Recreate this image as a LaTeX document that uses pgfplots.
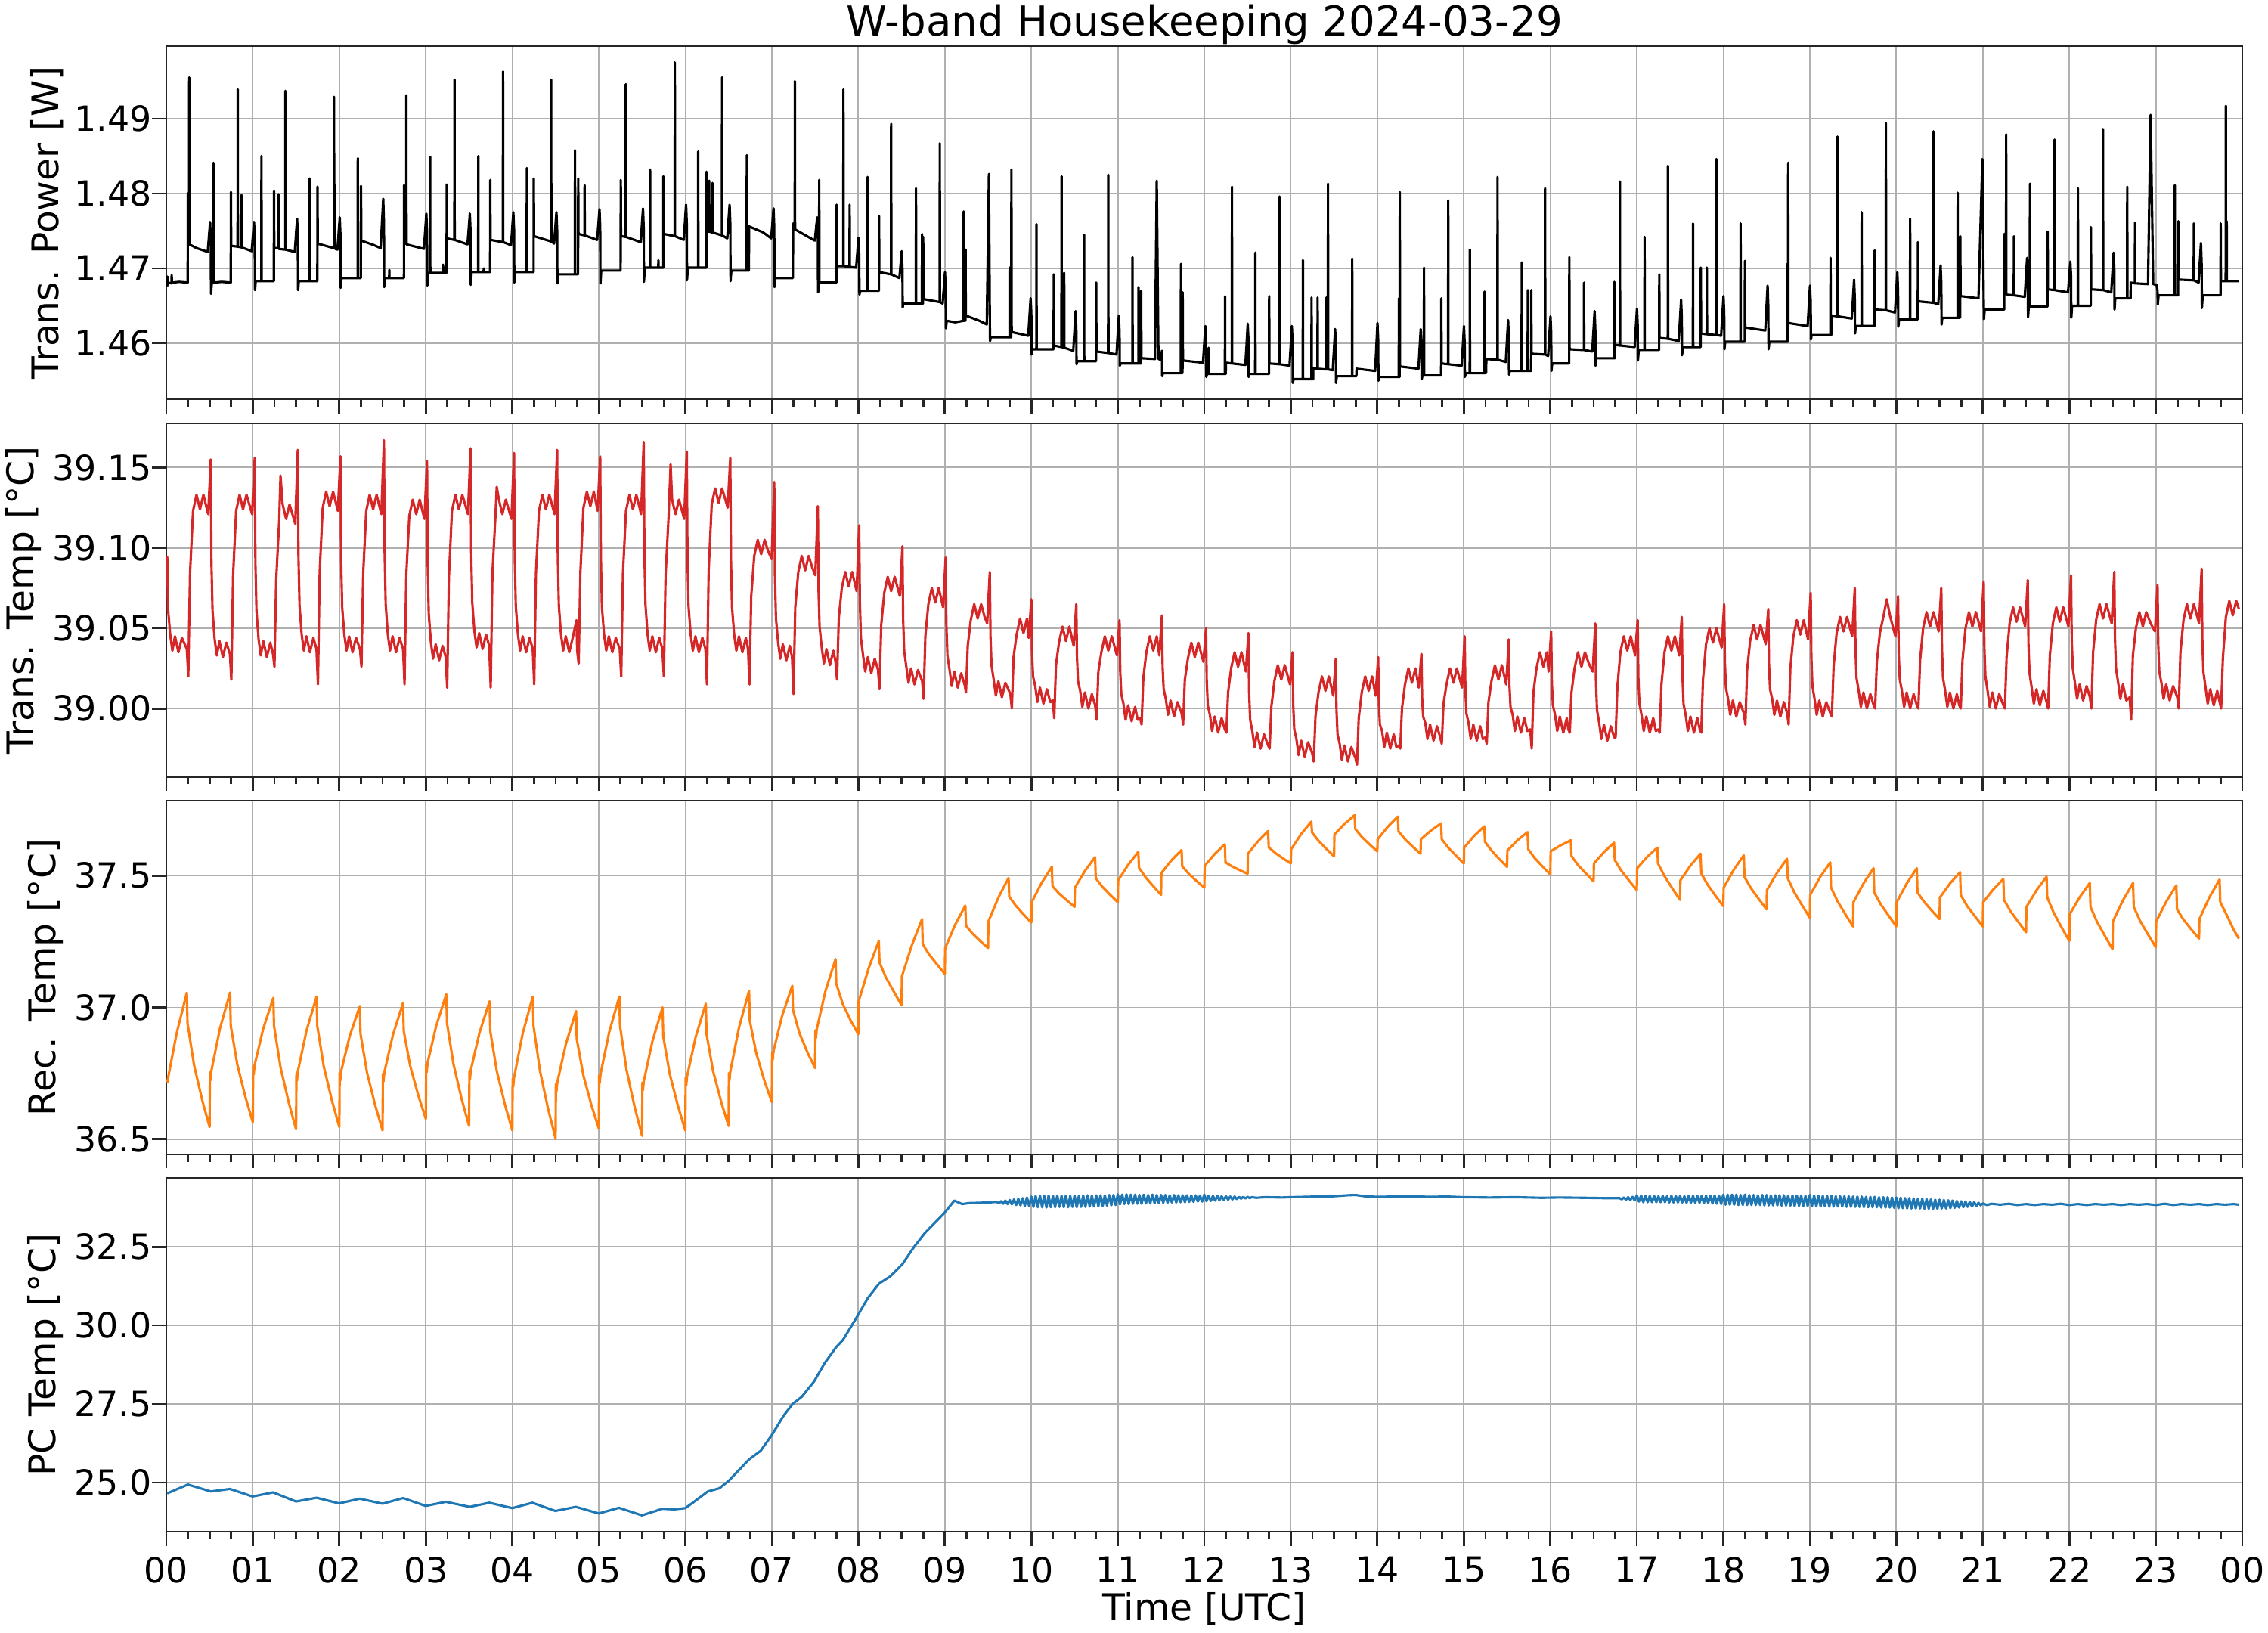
\documentclass[border=0pt]{standalone}
\usepackage{fontspec}
\setmainfont{DejaVu Sans}
\usepackage{pgfplots}
\pgfplotsset{compat=1.18}
\definecolor{tabred}{HTML}{D62728}
\definecolor{taborange}{HTML}{FF7F0E}
\definecolor{tabblue}{HTML}{1F77B4}
\definecolor{gridgray}{HTML}{B0B0B0}
\definecolor{axcol}{HTML}{262626}
\pgfplotsset{
  hk/.style={
    scale only axis, width=659.04pt, height=112.2pt,
    anchor=south west,
    xmin=0, xmax=24, xtick={0,1,...,24}, minor x tick num=3,
    tick pos=left, tick align=outside,
    major tick length=4.45pt, minor tick length=2.4pt,
    tick style={axcol, line width=0.65pt},
    axis line style={axcol, line width=0.5pt},
    grid=major, major grid style={gridgray, line width=0.45pt},
    tick label style={font=\fontsize{11}{13}\selectfont},
    yticklabel style={inner xsep=0pt},
    label style={font=\fontsize{11.7}{14}\selectfont},
    /pgf/number format/assume math mode=true,
    scaled y ticks=false,
    xticklabels={},
    every axis plot/.append style={line width=0.75pt, line join=round, mark=none},
  }
}
\begin{document}
\begin{tikzpicture}
\useasboundingbox (0,0) rectangle (720pt,518.4pt);
% ---------------- Panel 1: transmitter power
\begin{axis}[hk, at={(52.8pt,391.6pt)},
  ymin=1.4525, ymax=1.4997, ytick={1.46,1.47,1.48,1.49},
  yticklabel style={/pgf/number format/.cd, fixed, fixed zerofill, precision=2},
  ylabel={Trans. Power [W]},
  title={W-band Housekeeping 2024-03-29},
  title style={font=\fontsize{13.1}{15}\selectfont, at={(0.5,1)}, anchor=base, yshift=-2.7pt}]
\addplot[black] coordinates {
(0.010,1.4676) (0.015,1.4689) (0.020,1.4681) (0.060,1.4680) (0.062,1.4691) (0.065,1.4681) (0.150,1.4682) (0.247,1.4681)
(0.249,1.4800) (0.252,1.4733) (0.263,1.4733) (0.265,1.4955) (0.267,1.4732) (0.350,1.4727) (0.479,1.4722) (0.506,1.4762) (0.514,1.4740)
(0.517,1.4666) (0.526,1.4681) (0.544,1.4681) (0.546,1.4841) (0.548,1.4681) (0.640,1.4682) (0.745,1.4681)
(0.747,1.4802) (0.750,1.4730) (0.824,1.4729) (0.826,1.4939) (0.828,1.4729) (0.867,1.4728) (0.869,1.4798) (0.871,1.4728) (0.987,1.4723) (1.014,1.4762) (1.022,1.4740)
(1.025,1.4671) (1.034,1.4683) (1.098,1.4683) (1.100,1.4850) (1.102,1.4683) (1.243,1.4683)
(1.245,1.4804) (1.248,1.4727) (1.296,1.4727) (1.298,1.4799) (1.300,1.4726) (1.375,1.4725) (1.377,1.4937) (1.379,1.4725) (1.485,1.4722) (1.512,1.4766) (1.520,1.4742)
(1.523,1.4671) (1.532,1.4683) (1.656,1.4683) (1.658,1.4820) (1.660,1.4683) (1.746,1.4683)
(1.748,1.4809) (1.751,1.4733) (1.937,1.4727) (1.939,1.4929) (1.941,1.4727) (1.948,1.4727) (1.950,1.4811) (1.952,1.4726) (1.978,1.4725) (2.005,1.4768) (2.013,1.4745)
(2.016,1.4674) (2.025,1.4687) (2.212,1.4687) (2.214,1.4847) (2.216,1.4687) (2.249,1.4687)
(2.251,1.4810) (2.254,1.4737) (2.400,1.4731) (2.478,1.4727) (2.508,1.4793) (2.516,1.4760)
(2.519,1.4675) (2.528,1.4687) (2.576,1.4687) (2.578,1.4698) (2.580,1.4687) (2.747,1.4687)
(2.749,1.4811) (2.752,1.4733) (2.773,1.4733) (2.775,1.4931) (2.777,1.4732) (2.979,1.4726) (3.006,1.4773) (3.014,1.4750)
(3.017,1.4677) (3.026,1.4694) (3.048,1.4694) (3.050,1.4849) (3.052,1.4694) (3.198,1.4694) (3.200,1.4705) (3.202,1.4694) (3.240,1.4694)
(3.242,1.4812) (3.245,1.4740) (3.330,1.4738) (3.332,1.4952) (3.334,1.4738) (3.482,1.4732) (3.509,1.4773) (3.517,1.4750)
(3.520,1.4678) (3.529,1.4695) (3.605,1.4695) (3.607,1.4850) (3.609,1.4695) (3.668,1.4695) (3.670,1.4700) (3.672,1.4695) (3.743,1.4695)
(3.745,1.4818) (3.748,1.4738) (3.891,1.4735) (3.893,1.4963) (3.895,1.4735) (3.985,1.4731) (4.012,1.4775) (4.020,1.4752)
(4.023,1.4681) (4.032,1.4695) (4.166,1.4695) (4.168,1.4834) (4.170,1.4695) (4.246,1.4695)
(4.248,1.4820) (4.251,1.4743) (4.447,1.4736) (4.449,1.4952) (4.451,1.4736) (4.483,1.4733) (4.510,1.4775) (4.518,1.4752)
(4.521,1.4680) (4.530,1.4692) (4.723,1.4692) (4.725,1.4858) (4.727,1.4692) (4.760,1.4692)
(4.762,1.4820) (4.765,1.4746) (4.834,1.4744) (4.836,1.4811) (4.838,1.4744) (4.981,1.4738) (5.008,1.4779) (5.016,1.4755)
(5.019,1.4680) (5.028,1.4697) (5.252,1.4697)
(5.254,1.4818) (5.257,1.4743) (5.310,1.4742) (5.312,1.4946) (5.314,1.4742) (5.484,1.4735) (5.511,1.4780) (5.519,1.4755)
(5.522,1.4682) (5.531,1.4701) (5.591,1.4701) (5.593,1.4832) (5.595,1.4701) (5.687,1.4701) (5.689,1.4711) (5.691,1.4701) (5.745,1.4701)
(5.747,1.4823) (5.750,1.4746) (5.877,1.4743) (5.879,1.4975) (5.881,1.4743) (5.982,1.4738) (6.009,1.4785) (6.017,1.4760)
(6.020,1.4684) (6.029,1.4701) (6.147,1.4701) (6.149,1.4856) (6.151,1.4701) (6.243,1.4701)
(6.245,1.4829) (6.248,1.4750) (6.274,1.4749) (6.276,1.4817) (6.278,1.4749) (6.311,1.4748) (6.313,1.4814) (6.315,1.4748) (6.423,1.4744) (6.425,1.4955) (6.427,1.4744) (6.485,1.4740) (6.512,1.4785) (6.520,1.4760)
(6.523,1.4683) (6.532,1.4697) (6.709,1.4697) (6.711,1.4851) (6.713,1.4697) (6.735,1.4697)
(6.737,1.4756) (6.900,1.4748) (6.993,1.4740) (7.020,1.4780) (7.028,1.4755)
(7.031,1.4675) (7.040,1.4687) (7.244,1.4687)
(7.246,1.4760) (7.249,1.4753) (7.265,1.4753) (7.267,1.4950) (7.269,1.4752) (7.497,1.4737) (7.524,1.4768) (7.532,1.4745)
(7.535,1.4668) (7.544,1.4681) (7.546,1.4681) (7.548,1.4818) (7.550,1.4681) (7.747,1.4681)
(7.749,1.4785) (7.752,1.4703) (7.826,1.4703) (7.828,1.4939) (7.830,1.4703) (7.898,1.4702) (7.900,1.4785) (7.902,1.4702) (7.975,1.4701) (8.002,1.4741) (8.010,1.4720)
(8.013,1.4665) (8.022,1.4670) (8.105,1.4670) (8.107,1.4822) (8.109,1.4670) (8.238,1.4670)
(8.240,1.4770) (8.243,1.4695) (8.378,1.4692) (8.380,1.4893) (8.382,1.4692) (8.475,1.4687) (8.502,1.4723) (8.510,1.4700)
(8.513,1.4648) (8.522,1.4653) (8.665,1.4653) (8.667,1.4807) (8.669,1.4653) (8.735,1.4653) (8.737,1.4746) (8.739,1.4653) (8.748,1.4653)
(8.750,1.4742) (8.753,1.4659) (8.940,1.4655) (8.942,1.4867) (8.944,1.4655) (8.975,1.4653) (9.002,1.4695) (9.010,1.4670)
(9.013,1.4620) (9.022,1.4630) (9.120,1.4628) (9.216,1.4630) (9.218,1.4776) (9.220,1.4630) (9.238,1.4630)
(9.240,1.4725) (9.243,1.4637) (9.400,1.4630) (9.485,1.4625) (9.510,1.4826) (9.520,1.4640)
(9.523,1.4603) (9.532,1.4608) (9.748,1.4608) (9.750,1.4701) (9.752,1.4608) (9.768,1.4608)
(9.770,1.4832) (9.773,1.4615) (9.965,1.4610) (9.992,1.4660) (10.000,1.4640)
(10.003,1.4585) (10.012,1.4592) (10.058,1.4592) (10.060,1.4759) (10.062,1.4592) (10.258,1.4592)
(10.260,1.4692) (10.263,1.4597) (10.348,1.4595) (10.350,1.4823) (10.352,1.4595) (10.378,1.4594) (10.380,1.4694) (10.382,1.4594) (10.485,1.4590) (10.512,1.4643) (10.520,1.4620)
(10.523,1.4572) (10.532,1.4576) (10.608,1.4576) (10.610,1.4745) (10.612,1.4576) (10.748,1.4576)
(10.750,1.4681) (10.753,1.4589) (10.888,1.4587) (10.890,1.4825) (10.892,1.4587) (10.985,1.4585) (11.012,1.4637) (11.020,1.4615)
(11.023,1.4570) (11.032,1.4573) (11.168,1.4573) (11.170,1.4715) (11.172,1.4573) (11.238,1.4573) (11.240,1.4675) (11.242,1.4573) (11.268,1.4573)
(11.270,1.4670) (11.273,1.4580) (11.430,1.4579) (11.450,1.4817) (11.470,1.4579) (11.500,1.4578) (11.510,1.4590)
(11.513,1.4556) (11.522,1.4560) (11.728,1.4560) (11.730,1.4706) (11.732,1.4560) (11.748,1.4560)
(11.750,1.4668) (11.753,1.4577) (11.985,1.4574) (12.012,1.4623) (12.020,1.4600)
(12.023,1.4555) (12.032,1.4559) (12.048,1.4559) (12.050,1.4594) (12.052,1.4559) (12.238,1.4559) (12.240,1.4663) (12.242,1.4559) (12.248,1.4559)
(12.250,1.4574) (12.318,1.4573) (12.320,1.4809) (12.322,1.4573) (12.475,1.4571) (12.502,1.4626) (12.510,1.4605)
(12.513,1.4555) (12.522,1.4559) (12.588,1.4559) (12.590,1.4721) (12.592,1.4559) (12.748,1.4559)
(12.750,1.4663) (12.753,1.4573) (12.868,1.4572) (12.870,1.4796) (12.872,1.4572) (12.985,1.4570) (13.012,1.4623) (13.020,1.4600)
(13.023,1.4547) (13.032,1.4552) (13.138,1.4552) (13.140,1.4711) (13.142,1.4552) (13.238,1.4552) (13.240,1.4661) (13.242,1.4552) (13.258,1.4552)
(13.260,1.4567) (13.308,1.4566) (13.310,1.4661) (13.312,1.4566) (13.408,1.4565) (13.410,1.4661) (13.412,1.4565) (13.428,1.4565) (13.430,1.4813) (13.432,1.4565) (13.485,1.4564) (13.512,1.4619) (13.520,1.4600)
(13.523,1.4547) (13.532,1.4556) (13.708,1.4556) (13.710,1.4713) (13.712,1.4556) (13.758,1.4556)
(13.760,1.4566) (13.975,1.4563) (14.002,1.4627) (14.010,1.4605)
(14.013,1.4550) (14.022,1.4555) (14.248,1.4555) (14.250,1.4660) (14.252,1.4555) (14.258,1.4555)
(14.260,1.4802) (14.263,1.4569) (14.475,1.4566) (14.502,1.4619) (14.510,1.4600)
(14.513,1.4552) (14.522,1.4557) (14.538,1.4557) (14.540,1.4701) (14.542,1.4557) (14.738,1.4557)
(14.740,1.4660) (14.743,1.4573) (14.818,1.4572) (14.820,1.4791) (14.822,1.4572) (14.975,1.4570) (15.002,1.4623) (15.010,1.4600)
(15.013,1.4555) (15.022,1.4560) (15.068,1.4560) (15.070,1.4725) (15.072,1.4560) (15.238,1.4560) (15.240,1.4669) (15.242,1.4560) (15.258,1.4560)
(15.260,1.4579) (15.388,1.4578) (15.390,1.4822) (15.392,1.4578) (15.485,1.4575) (15.512,1.4631) (15.520,1.4610)
(15.523,1.4558) (15.532,1.4563) (15.668,1.4563) (15.670,1.4708) (15.672,1.4563) (15.738,1.4563) (15.740,1.4671) (15.742,1.4563) (15.778,1.4563)
(15.780,1.4671) (15.783,1.4586) (15.938,1.4585) (15.940,1.4807) (15.942,1.4585) (15.975,1.4583) (16.002,1.4636) (16.010,1.4615)
(16.013,1.4563) (16.022,1.4573) (16.218,1.4573)
(16.220,1.4715) (16.223,1.4592) (16.388,1.4591) (16.390,1.4681) (16.392,1.4591) (16.485,1.4589) (16.512,1.4643) (16.520,1.4620)
(16.523,1.4570) (16.532,1.4580) (16.738,1.4580) (16.740,1.4682) (16.742,1.4580) (16.748,1.4580)
(16.750,1.4598) (16.803,1.4597) (16.805,1.4816) (16.807,1.4597) (16.975,1.4595) (17.002,1.4646) (17.010,1.4625)
(17.013,1.4577) (17.022,1.4591) (17.088,1.4591) (17.090,1.4742) (17.092,1.4591) (17.258,1.4591)
(17.260,1.4692) (17.263,1.4607) (17.358,1.4606) (17.360,1.4837) (17.362,1.4606) (17.485,1.4603) (17.512,1.4658) (17.520,1.4635)
(17.523,1.4584) (17.532,1.4595) (17.648,1.4595) (17.650,1.4760) (17.652,1.4595) (17.738,1.4595)
(17.740,1.4701) (17.743,1.4613) (17.808,1.4612) (17.810,1.4701) (17.812,1.4612) (17.918,1.4611) (17.920,1.4846) (17.922,1.4611) (17.975,1.4610) (18.002,1.4663) (18.010,1.4640)
(18.013,1.4592) (18.022,1.4602) (18.198,1.4602) (18.200,1.4760) (18.202,1.4602) (18.248,1.4602)
(18.250,1.4710) (18.253,1.4621) (18.485,1.4617) (18.512,1.4677) (18.520,1.4650)
(18.523,1.4592) (18.532,1.4602) (18.738,1.4602) (18.740,1.4706) (18.742,1.4602) (18.748,1.4602)
(18.750,1.4841) (18.753,1.4627) (18.975,1.4623) (19.002,1.4677) (19.010,1.4655)
(19.013,1.4605) (19.022,1.4611) (19.238,1.4611) (19.240,1.4714) (19.242,1.4611) (19.248,1.4611)
(19.250,1.4637) (19.318,1.4636) (19.320,1.4876) (19.322,1.4636) (19.485,1.4633) (19.512,1.4685) (19.520,1.4660)
(19.523,1.4613) (19.532,1.4623) (19.598,1.4623) (19.600,1.4775) (19.602,1.4623) (19.748,1.4623)
(19.750,1.4724) (19.753,1.4645) (19.878,1.4644) (19.880,1.4894) (19.882,1.4644) (19.985,1.4641) (20.012,1.4695) (20.020,1.4670)
(20.023,1.4622) (20.032,1.4632) (20.158,1.4632) (20.160,1.4766) (20.162,1.4632) (20.248,1.4632)
(20.250,1.4735) (20.253,1.4656) (20.428,1.4654) (20.430,1.4883) (20.432,1.4654) (20.485,1.4652) (20.512,1.4704) (20.520,1.4680)
(20.523,1.4625) (20.532,1.4634) (20.708,1.4634) (20.710,1.4801) (20.712,1.4634) (20.738,1.4634)
(20.740,1.4743) (20.743,1.4663) (20.950,1.4660) (20.995,1.4846) (21.010,1.4660)
(21.013,1.4632) (21.022,1.4645) (21.248,1.4645)
(21.250,1.4746) (21.253,1.4666) (21.268,1.4666) (21.270,1.4879) (21.272,1.4665) (21.358,1.4664) (21.360,1.4743) (21.362,1.4664) (21.485,1.4662) (21.512,1.4714) (21.520,1.4690)
(21.523,1.4635) (21.532,1.4649) (21.543,1.4649) (21.545,1.4813) (21.547,1.4649) (21.748,1.4649)
(21.750,1.4749) (21.753,1.4672) (21.828,1.4671) (21.830,1.4872) (21.832,1.4671) (21.985,1.4668) (22.012,1.4709) (22.020,1.4690)
(22.023,1.4634) (22.032,1.4650) (22.098,1.4650) (22.100,1.4807) (22.102,1.4650) (22.248,1.4650)
(22.250,1.4755) (22.253,1.4672) (22.388,1.4671) (22.390,1.4886) (22.392,1.4671) (22.485,1.4668) (22.512,1.4721) (22.520,1.4700)
(22.523,1.4645) (22.532,1.4660) (22.668,1.4660) (22.670,1.4809) (22.672,1.4660) (22.708,1.4660)
(22.710,1.4681) (22.758,1.4680) (22.760,1.4761) (22.762,1.4680) (22.910,1.4679) (22.940,1.4905) (22.970,1.4679) (23.010,1.4678) (23.020,1.4670)
(23.023,1.4652) (23.032,1.4664) (23.218,1.4664) (23.220,1.4811) (23.222,1.4664) (23.258,1.4664)
(23.260,1.4763) (23.263,1.4685) (23.438,1.4684) (23.440,1.4760) (23.442,1.4684) (23.495,1.4681) (23.522,1.4734) (23.530,1.4705)
(23.533,1.4647) (23.542,1.4664) (23.748,1.4664)
(23.750,1.4760) (23.753,1.4683) (23.808,1.4683) (23.810,1.4917) (23.812,1.4683) (23.818,1.4683) (23.820,1.4763) (23.822,1.4683) (23.960,1.4683)
};
\end{axis}
% ---------------- Panel 2: transmitter temperature
\begin{axis}[hk, at={(52.8pt,271.8pt)},
  ymin=38.9575, ymax=39.1775, ytick={39.00,39.05,39.10,39.15},
  yticklabel style={/pgf/number format/.cd, fixed, fixed zerofill, precision=2},
  ylabel={Trans. Temp [°C]}]
\addplot[tabred] coordinates {
(0.010,39.095) (0.020,39.062) (0.045,39.046) (0.070,39.036) (0.100,39.045) (0.140,39.035) (0.180,39.044) (0.237,39.037) (0.254,39.020) (0.274,39.084) (0.309,39.123) (0.349,39.133) (0.389,39.124) (0.429,39.133) (0.484,39.121) (0.514,39.155)
(0.522,39.090) (0.534,39.061) (0.559,39.043) (0.584,39.033) (0.614,39.042) (0.654,39.032) (0.694,39.041) (0.735,39.034) (0.752,39.018) (0.772,39.083) (0.807,39.123) (0.847,39.133) (0.887,39.124) (0.927,39.133) (0.992,39.121) (1.022,39.156)
(1.030,39.091) (1.042,39.061) (1.067,39.043) (1.092,39.033) (1.122,39.042) (1.162,39.032) (1.202,39.041) (1.233,39.034) (1.250,39.026) (1.270,39.080) (1.305,39.117) (1.320,39.145) (1.345,39.127) (1.385,39.118) (1.425,39.127) (1.490,39.115) (1.520,39.161)
(1.528,39.094) (1.540,39.064) (1.565,39.046) (1.590,39.036) (1.620,39.045) (1.660,39.035) (1.700,39.044) (1.736,39.037) (1.753,39.015) (1.773,39.085) (1.808,39.125) (1.848,39.135) (1.888,39.126) (1.928,39.135) (1.983,39.123) (2.013,39.157)
(2.021,39.093) (2.033,39.063) (2.058,39.046) (2.083,39.036) (2.113,39.045) (2.153,39.035) (2.193,39.044) (2.239,39.037) (2.256,39.026) (2.276,39.084) (2.311,39.123) (2.351,39.133) (2.391,39.124) (2.431,39.133) (2.486,39.121) (2.516,39.167)
(2.524,39.097) (2.536,39.065) (2.561,39.046) (2.586,39.036) (2.616,39.045) (2.656,39.035) (2.696,39.044) (2.737,39.037) (2.754,39.015) (2.774,39.083) (2.809,39.120) (2.849,39.130) (2.889,39.121) (2.929,39.130) (2.984,39.118) (3.014,39.154)
(3.022,39.089) (3.034,39.059) (3.059,39.041) (3.084,39.031) (3.114,39.040) (3.154,39.030) (3.194,39.039) (3.230,39.032) (3.247,39.013) (3.267,39.082) (3.302,39.123) (3.342,39.133) (3.382,39.124) (3.422,39.133) (3.487,39.121) (3.517,39.162)
(3.525,39.096) (3.537,39.066) (3.562,39.048) (3.587,39.038) (3.617,39.047) (3.657,39.037) (3.697,39.046) (3.733,39.039) (3.750,39.013) (3.770,39.084) (3.805,39.120) (3.820,39.138) (3.845,39.130) (3.885,39.121) (3.925,39.130) (3.990,39.118) (4.020,39.159)
(4.028,39.094) (4.040,39.064) (4.065,39.046) (4.090,39.036) (4.120,39.045) (4.160,39.035) (4.200,39.044) (4.236,39.037) (4.253,39.015) (4.273,39.084) (4.308,39.123) (4.348,39.133) (4.388,39.124) (4.428,39.133) (4.488,39.121) (4.518,39.161)
(4.526,39.094) (4.538,39.064) (4.563,39.046) (4.588,39.036) (4.618,39.045) (4.658,39.035) (4.698,39.044) (4.742,39.055) (4.750,39.036) (4.767,39.028) (4.787,39.085) (4.822,39.125) (4.862,39.135) (4.902,39.126) (4.942,39.135) (4.986,39.123) (5.016,39.157)
(5.024,39.093) (5.036,39.063) (5.061,39.046) (5.086,39.036) (5.116,39.045) (5.156,39.035) (5.196,39.044) (5.242,39.037) (5.259,39.020) (5.279,39.084) (5.314,39.123) (5.354,39.133) (5.394,39.124) (5.434,39.133) (5.489,39.121) (5.519,39.166)
(5.527,39.097) (5.539,39.065) (5.564,39.046) (5.589,39.036) (5.619,39.045) (5.659,39.035) (5.699,39.044) (5.735,39.037) (5.752,39.020) (5.772,39.083) (5.807,39.120) (5.830,39.152) (5.847,39.130) (5.887,39.121) (5.927,39.130) (5.987,39.118) (6.017,39.160)
(6.025,39.094) (6.037,39.064) (6.062,39.046) (6.087,39.036) (6.117,39.045) (6.157,39.035) (6.197,39.044) (6.233,39.037) (6.250,39.015) (6.270,39.086) (6.305,39.127) (6.345,39.137) (6.385,39.128) (6.425,39.137) (6.490,39.125) (6.520,39.156)
(6.528,39.092) (6.540,39.063) (6.565,39.046) (6.590,39.036) (6.620,39.045) (6.660,39.035) (6.700,39.044) (6.725,39.037) (6.742,39.015) (6.762,39.070) (6.797,39.095) (6.837,39.105) (6.877,39.096) (6.917,39.105) (6.957,39.098) (6.998,39.093) (7.028,39.141)
(7.036,39.083) (7.048,39.056) (7.073,39.041) (7.098,39.031) (7.128,39.040) (7.168,39.030) (7.208,39.039) (7.234,39.032) (7.251,39.009) (7.271,39.063) (7.306,39.085) (7.346,39.095) (7.386,39.086) (7.426,39.095) (7.466,39.088) (7.502,39.083) (7.532,39.126)
(7.540,39.074) (7.552,39.051) (7.577,39.038) (7.602,39.028) (7.632,39.037) (7.672,39.027) (7.712,39.036) (7.737,39.029) (7.754,39.018) (7.774,39.056) (7.809,39.075) (7.849,39.085) (7.889,39.076) (7.929,39.085) (7.980,39.073) (8.010,39.114)
(8.018,39.066) (8.030,39.044) (8.055,39.033) (8.080,39.023) (8.110,39.032) (8.150,39.022) (8.190,39.031) (8.228,39.024) (8.245,39.012) (8.265,39.052) (8.300,39.072) (8.340,39.082) (8.380,39.073) (8.420,39.082) (8.480,39.070) (8.510,39.101)
(8.518,39.056) (8.530,39.036) (8.555,39.026) (8.580,39.016) (8.610,39.025) (8.650,39.015) (8.690,39.024) (8.738,39.017) (8.755,39.006) (8.775,39.045) (8.810,39.065) (8.850,39.075) (8.890,39.066) (8.930,39.075) (8.980,39.063) (9.010,39.094)
(9.018,39.052) (9.030,39.033) (9.055,39.024) (9.080,39.014) (9.110,39.023) (9.150,39.013) (9.190,39.022) (9.228,39.015) (9.245,39.010) (9.265,39.039) (9.300,39.055) (9.340,39.065) (9.380,39.056) (9.420,39.065) (9.460,39.057) (9.490,39.053) (9.520,39.085)
(9.528,39.045) (9.540,39.027) (9.565,39.018) (9.590,39.008) (9.620,39.017) (9.660,39.007) (9.700,39.016) (9.758,39.009) (9.775,39.000) (9.795,39.032) (9.830,39.046) (9.870,39.056) (9.910,39.047) (9.950,39.056) (9.970,39.044) (10.000,39.068)
(10.008,39.035) (10.020,39.020) (10.045,39.014) (10.070,39.004) (10.100,39.013) (10.140,39.003) (10.180,39.012) (10.220,39.004) (10.248,39.005) (10.265,38.994) (10.285,39.027) (10.320,39.041) (10.360,39.051) (10.400,39.042) (10.440,39.051) (10.490,39.039) (10.520,39.065)
(10.528,39.032) (10.540,39.017) (10.565,39.011) (10.590,39.001) (10.620,39.010) (10.660,39.000) (10.700,39.009) (10.738,39.002) (10.755,38.993) (10.775,39.023) (10.810,39.035) (10.850,39.045) (10.890,39.036) (10.930,39.045) (10.990,39.033) (11.020,39.055)
(11.028,39.023) (11.040,39.009) (11.065,39.003) (11.090,38.993) (11.120,39.002) (11.160,38.992) (11.200,39.001) (11.230,38.993) (11.258,38.994) (11.275,38.990) (11.295,39.019) (11.330,39.035) (11.370,39.045) (11.410,39.036) (11.450,39.045) (11.480,39.033) (11.510,39.058)
(11.518,39.026) (11.530,39.012) (11.555,39.006) (11.580,38.996) (11.610,39.005) (11.650,38.995) (11.690,39.004) (11.738,38.997) (11.755,38.990) (11.775,39.018) (11.810,39.031) (11.850,39.041) (11.890,39.032) (11.930,39.041) (11.990,39.029) (12.020,39.050)
(12.028,39.017) (12.040,39.002) (12.065,38.996) (12.090,38.986) (12.120,38.995) (12.160,38.985) (12.200,38.994) (12.238,38.987) (12.255,38.985) (12.275,39.010) (12.310,39.025) (12.350,39.035) (12.390,39.026) (12.430,39.035) (12.480,39.023) (12.510,39.047)
(12.518,39.010) (12.530,38.993) (12.555,38.986) (12.580,38.976) (12.610,38.985) (12.650,38.975) (12.690,38.984) (12.738,38.977) (12.755,38.975) (12.775,39.001) (12.810,39.017) (12.850,39.027) (12.890,39.018) (12.930,39.027) (12.990,39.015) (13.020,39.035)
(13.028,39.002) (13.040,38.987) (13.065,38.981) (13.090,38.971) (13.120,38.980) (13.160,38.970) (13.200,38.979) (13.248,38.972) (13.265,38.967) (13.285,38.995) (13.320,39.010) (13.360,39.020) (13.400,39.011) (13.440,39.020) (13.490,39.008) (13.520,39.031)
(13.528,38.999) (13.540,38.984) (13.565,38.978) (13.590,38.968) (13.620,38.977) (13.660,38.967) (13.700,38.976) (13.748,38.969) (13.765,38.965) (13.785,38.994) (13.820,39.010) (13.860,39.020) (13.900,39.011) (13.940,39.020) (13.980,39.008) (14.010,39.032)
(14.018,39.003) (14.030,38.990) (14.055,38.986) (14.080,38.976) (14.110,38.985) (14.150,38.975) (14.190,38.984) (14.220,38.976) (14.248,38.977) (14.265,38.975) (14.285,39.000) (14.320,39.015) (14.360,39.025) (14.400,39.016) (14.440,39.025) (14.480,39.013) (14.510,39.034)
(14.518,39.007) (14.530,38.995) (14.555,38.991) (14.580,38.981) (14.610,38.990) (14.650,38.980) (14.690,38.989) (14.728,38.982) (14.745,38.978) (14.765,39.003) (14.800,39.015) (14.840,39.025) (14.880,39.016) (14.920,39.025) (14.980,39.013) (15.010,39.045)
(15.018,39.012) (15.030,38.997) (15.055,38.991) (15.080,38.981) (15.110,38.990) (15.150,38.980) (15.190,38.989) (15.220,38.981) (15.248,38.982) (15.265,38.978) (15.285,39.004) (15.320,39.017) (15.360,39.027) (15.400,39.018) (15.440,39.027) (15.490,39.015) (15.520,39.043)
(15.528,39.014) (15.540,39.001) (15.565,38.996) (15.590,38.986) (15.620,38.995) (15.660,38.985) (15.700,38.994) (15.735,38.986) (15.768,38.987) (15.785,38.975) (15.805,39.010) (15.840,39.025) (15.880,39.035) (15.920,39.026) (15.960,39.035) (15.980,39.023) (16.010,39.048)
(16.018,39.016) (16.030,39.002) (16.055,38.996) (16.080,38.986) (16.110,38.995) (16.150,38.985) (16.190,38.994) (16.208,38.987) (16.225,38.985) (16.245,39.010) (16.280,39.025) (16.320,39.035) (16.360,39.026) (16.400,39.035) (16.445,39.028) (16.490,39.023) (16.520,39.053)
(16.528,39.016) (16.540,38.999) (16.565,38.991) (16.590,38.981) (16.620,38.990) (16.660,38.980) (16.700,38.989) (16.738,38.982) (16.755,38.982) (16.775,39.013) (16.810,39.035) (16.850,39.045) (16.890,39.036) (16.930,39.045) (16.980,39.033) (17.010,39.055)
(17.018,39.019) (17.030,39.003) (17.055,38.996) (17.080,38.986) (17.110,38.995) (17.150,38.985) (17.190,38.994) (17.220,38.986) (17.248,38.987) (17.265,38.985) (17.285,39.015) (17.320,39.035) (17.360,39.045) (17.400,39.036) (17.440,39.045) (17.490,39.033) (17.520,39.057)
(17.528,39.020) (17.540,39.003) (17.565,38.996) (17.590,38.986) (17.620,38.995) (17.660,38.985) (17.700,38.994) (17.728,38.987) (17.745,38.985) (17.765,39.018) (17.800,39.040) (17.840,39.050) (17.880,39.041) (17.920,39.050) (17.980,39.038) (18.010,39.065)
(18.018,39.029) (18.030,39.013) (18.055,39.006) (18.080,38.996) (18.110,39.005) (18.150,38.995) (18.190,39.004) (18.238,38.997) (18.255,38.990) (18.275,39.024) (18.310,39.042) (18.350,39.052) (18.390,39.043) (18.430,39.052) (18.490,39.040) (18.520,39.062)
(18.528,39.028) (18.540,39.012) (18.565,39.006) (18.590,38.996) (18.620,39.005) (18.660,38.995) (18.700,39.004) (18.738,38.997) (18.755,38.990) (18.775,39.025) (18.810,39.045) (18.850,39.055) (18.890,39.046) (18.930,39.055) (18.980,39.043) (19.010,39.072)
(19.018,39.032) (19.030,39.014) (19.055,39.006) (19.080,38.996) (19.110,39.005) (19.150,38.995) (19.190,39.004) (19.238,38.997) (19.255,38.995) (19.275,39.026) (19.310,39.047) (19.350,39.057) (19.390,39.048) (19.430,39.057) (19.490,39.045) (19.520,39.075)
(19.528,39.037) (19.540,39.019) (19.565,39.011) (19.590,39.001) (19.620,39.010) (19.660,39.000) (19.700,39.009) (19.738,39.002) (19.755,39.000) (19.775,39.029) (19.810,39.047) (19.850,39.057) (19.890,39.068) (19.930,39.057) (19.990,39.045) (20.020,39.070)
(20.028,39.034) (20.040,39.018) (20.065,39.011) (20.090,39.001) (20.120,39.010) (20.160,39.000) (20.200,39.009) (20.238,39.002) (20.255,39.000) (20.275,39.030) (20.310,39.050) (20.350,39.060) (20.390,39.051) (20.430,39.060) (20.490,39.048) (20.520,39.075)
(20.528,39.037) (20.540,39.019) (20.565,39.011) (20.590,39.001) (20.620,39.010) (20.660,39.000) (20.700,39.009) (20.728,39.002) (20.745,39.000) (20.765,39.030) (20.800,39.050) (20.840,39.060) (20.880,39.051) (20.920,39.060) (20.980,39.048) (21.010,39.079)
(21.018,39.038) (21.030,39.020) (21.055,39.011) (21.080,39.001) (21.110,39.010) (21.150,39.000) (21.190,39.009) (21.238,39.002) (21.255,39.000) (21.275,39.032) (21.310,39.053) (21.350,39.063) (21.390,39.054) (21.430,39.063) (21.490,39.051) (21.520,39.080)
(21.528,39.040) (21.540,39.022) (21.565,39.013) (21.590,39.003) (21.620,39.012) (21.660,39.002) (21.700,39.011) (21.738,39.004) (21.755,39.000) (21.775,39.033) (21.810,39.053) (21.850,39.063) (21.890,39.054) (21.930,39.063) (21.990,39.051) (22.020,39.083)
(22.028,39.043) (22.040,39.025) (22.065,39.016) (22.090,39.006) (22.120,39.015) (22.160,39.005) (22.200,39.014) (22.238,39.007) (22.255,39.000) (22.275,39.035) (22.310,39.055) (22.350,39.065) (22.390,39.056) (22.430,39.065) (22.490,39.053) (22.520,39.085)
(22.528,39.044) (22.540,39.025) (22.565,39.016) (22.590,39.006) (22.620,39.015) (22.660,39.005) (22.698,39.007) (22.715,38.993) (22.735,39.033) (22.770,39.050) (22.810,39.060) (22.850,39.051) (22.890,39.060) (22.940,39.053) (22.990,39.048) (23.020,39.077)
(23.028,39.040) (23.040,39.023) (23.065,39.016) (23.090,39.006) (23.120,39.015) (23.160,39.005) (23.200,39.014) (23.248,39.007) (23.265,39.000) (23.285,39.035) (23.320,39.055) (23.360,39.065) (23.400,39.056) (23.440,39.065) (23.500,39.053) (23.530,39.087)
(23.538,39.043) (23.550,39.023) (23.575,39.013) (23.600,39.003) (23.630,39.012) (23.670,39.002) (23.710,39.011) (23.738,39.004) (23.755,39.000) (23.775,39.031) (23.810,39.057) (23.850,39.067) (23.890,39.058) (23.930,39.067) (23.960,39.062)
};
\end{axis}
% ---------------- Panel 3: receiver temperature
\begin{axis}[hk, at={(52.8pt,152.0pt)},
  ymin=36.443, ymax=37.784, ytick={36.5,37.0,37.5},
  yticklabel style={/pgf/number format/.cd, fixed, fixed zerofill, precision=1},
  ylabel={Rec. Temp [°C]}]
\addplot[taborange] coordinates {
(0.010,36.715) (0.120,36.903) (0.237,37.056) (0.245,36.940) (0.320,36.782) (0.415,36.648) (0.500,36.546)
(0.504,36.753) (0.510,36.723) (0.520,36.758) (0.620,36.920) (0.737,37.056) (0.745,36.930) (0.820,36.784) (0.915,36.659) (1.000,36.564)
(1.004,36.775) (1.010,36.745) (1.020,36.780) (1.120,36.919) (1.237,37.036) (1.245,36.930) (1.320,36.773) (1.415,36.639) (1.500,36.537)
(1.504,36.751) (1.510,36.721) (1.520,36.756) (1.620,36.911) (1.737,37.041) (1.745,36.930) (1.820,36.776) (1.915,36.646) (2.000,36.546)
(2.004,36.751) (2.010,36.721) (2.020,36.756) (2.120,36.891) (2.237,37.005) (2.245,36.900) (2.320,36.753) (2.415,36.628) (2.500,36.533)
(2.504,36.748) (2.510,36.718) (2.520,36.753) (2.620,36.896) (2.737,37.017) (2.745,36.910) (2.820,36.777) (2.915,36.664) (3.000,36.577)
(3.004,36.784) (3.010,36.754) (3.020,36.789) (3.120,36.930) (3.237,37.050) (3.245,36.940) (3.320,36.784) (3.415,36.651) (3.500,36.550)
(3.504,36.757) (3.510,36.727) (3.520,36.762) (3.620,36.903) (3.737,37.023) (3.745,36.910) (3.820,36.759) (3.915,36.631) (4.000,36.533)
(4.004,36.729) (4.010,36.699) (4.020,36.734) (4.120,36.901) (4.237,37.041) (4.245,36.930) (4.320,36.759) (4.415,36.613) (4.500,36.502)
(4.504,36.711) (4.510,36.681) (4.520,36.716) (4.620,36.862) (4.737,36.986) (4.745,36.880) (4.820,36.744) (4.915,36.628) (5.000,36.540)
(5.004,36.742) (5.010,36.712) (5.020,36.747) (5.120,36.906) (5.237,37.041) (5.245,36.930) (5.320,36.763) (5.415,36.621) (5.500,36.513)
(5.504,36.715) (5.510,36.685) (5.520,36.720) (5.620,36.872) (5.737,37.000) (5.745,36.890) (5.820,36.747) (5.915,36.626) (6.000,36.533)
(6.004,36.733) (6.010,36.703) (6.020,36.738) (6.120,36.888) (6.237,37.014) (6.245,36.900) (6.320,36.760) (6.415,36.641) (6.500,36.550)
(6.504,36.751) (6.510,36.721) (6.520,36.756) (6.620,36.923) (6.737,37.063) (6.745,36.950) (6.820,36.826) (6.915,36.721) (7.000,36.641)
(7.004,36.830) (7.010,36.800) (7.020,36.835) (7.120,36.969) (7.237,37.082) (7.245,36.990) (7.320,36.902) (7.415,36.827) (7.500,36.770)
(7.504,36.913) (7.510,36.883) (7.520,36.918) (7.620,37.062) (7.737,37.183) (7.745,37.090) (7.820,37.013) (7.915,36.948) (8.000,36.898)
(8.004,37.023) (8.120,37.149) (8.237,37.252) (8.245,37.170) (8.320,37.113) (8.415,37.057) (8.500,37.008)
(8.504,37.118) (8.620,37.237) (8.737,37.335) (8.745,37.240) (8.820,37.200) (8.915,37.161) (9.000,37.127)
(9.004,37.225) (9.120,37.314) (9.237,37.386) (9.245,37.310) (9.320,37.280) (9.415,37.250) (9.500,37.225)
(9.504,37.326) (9.620,37.417) (9.737,37.491) (9.745,37.420) (9.820,37.386) (9.915,37.351) (10.000,37.322)
(10.004,37.399) (10.120,37.473) (10.237,37.533) (10.245,37.460) (10.320,37.432) (10.415,37.405) (10.500,37.381)
(10.504,37.454) (10.620,37.518) (10.737,37.570) (10.745,37.490) (10.820,37.458) (10.915,37.426) (11.000,37.399)
(11.004,37.482) (11.120,37.541) (11.237,37.590) (11.245,37.530) (11.320,37.494) (11.415,37.458) (11.500,37.427)
(11.504,37.510) (11.620,37.558) (11.737,37.597) (11.745,37.535) (11.820,37.507) (11.915,37.478) (12.000,37.454)
(12.004,37.537) (12.120,37.582) (12.237,37.619) (12.245,37.550) (12.320,37.535) (12.415,37.520) (12.500,37.507)
(12.504,37.583) (12.620,37.630) (12.737,37.669) (12.745,37.607) (12.820,37.586) (12.915,37.564) (13.000,37.546)
(13.004,37.600) (13.120,37.658) (13.237,37.705) (13.245,37.664) (13.320,37.632) (13.415,37.600) (13.500,37.573)
(13.504,37.656) (13.620,37.696) (13.737,37.729) (13.745,37.677) (13.820,37.647) (13.915,37.617) (14.000,37.592)
(14.004,37.638) (14.120,37.685) (14.237,37.724) (14.245,37.668) (14.320,37.638) (14.415,37.608) (14.500,37.583)
(14.504,37.638) (14.620,37.671) (14.737,37.698) (14.745,37.638) (14.820,37.606) (14.915,37.574) (15.000,37.546)
(15.004,37.606) (15.120,37.651) (15.237,37.687) (15.245,37.628) (15.320,37.595) (15.415,37.561) (15.500,37.533)
(15.504,37.595) (15.620,37.634) (15.737,37.665) (15.745,37.600) (15.820,37.566) (15.915,37.533) (16.000,37.504)
(16.004,37.592) (16.120,37.615) (16.237,37.634) (16.245,37.574) (16.320,37.540) (16.415,37.507) (16.500,37.478)
(16.504,37.546) (16.620,37.589) (16.737,37.625) (16.745,37.559) (16.820,37.519) (16.915,37.479) (17.000,37.445)
(17.004,37.528) (17.120,37.571) (17.237,37.606) (17.245,37.546) (17.320,37.498) (17.415,37.449) (17.500,37.408)
(17.504,37.482) (17.620,37.538) (17.737,37.583) (17.745,37.508) (17.820,37.465) (17.915,37.421) (18.000,37.384)
(18.004,37.454) (18.120,37.522) (18.237,37.577) (18.245,37.495) (18.320,37.452) (18.415,37.409) (18.500,37.372)
(18.504,37.445) (18.620,37.510) (18.737,37.564) (18.745,37.490) (18.820,37.437) (18.915,37.385) (19.000,37.340)
(19.004,37.427) (19.120,37.495) (19.237,37.550) (19.245,37.455) (19.320,37.403) (19.415,37.351) (19.500,37.307)
(19.504,37.399) (19.620,37.470) (19.737,37.528) (19.745,37.436) (19.820,37.391) (19.915,37.346) (20.000,37.307)
(20.004,37.399) (20.120,37.470) (20.237,37.528) (20.245,37.436) (20.320,37.401) (20.415,37.365) (20.500,37.335)
(20.504,37.417) (20.620,37.470) (20.737,37.513) (20.745,37.426) (20.820,37.384) (20.915,37.343) (21.000,37.307)
(21.004,37.399) (21.120,37.447) (21.237,37.487) (21.245,37.408) (21.320,37.365) (21.415,37.322) (21.500,37.285)
(21.504,37.381) (21.620,37.444) (21.737,37.496) (21.745,37.417) (21.820,37.359) (21.915,37.301) (22.000,37.252)
(22.004,37.353) (22.120,37.418) (22.237,37.472) (22.245,37.381) (22.320,37.325) (22.415,37.269) (22.500,37.221)
(22.504,37.326) (22.620,37.406) (22.737,37.472) (22.745,37.381) (22.820,37.327) (22.915,37.274) (23.000,37.228)
(23.004,37.326) (23.120,37.401) (23.237,37.463) (23.245,37.372) (23.320,37.333) (23.415,37.294) (23.500,37.261)
(23.504,37.335) (23.620,37.418) (23.737,37.485) (23.745,37.399) (23.820,37.350) (23.900,37.295) (23.960,37.261)
};
\end{axis}
% ---------------- Panel 4: PC temperature
\begin{axis}[hk, at={(52.8pt,32.16pt)},
  ymin=23.44, ymax=34.68, ytick={25,27.5,30,32.5},
  yticklabel style={/pgf/number format/.cd, fixed, fixed zerofill, precision=1},
  ylabel={PC Temp [°C]},
  xticklabels={00,01,02,03,04,05,06,07,08,09,10,11,12,13,14,15,16,17,18,19,20,21,22,23,00},
  xlabel={Time [UTC]},
  xlabel style={at={(axis description cs:0.5,0)}, anchor=base, yshift=-28.3pt}]
\addplot[tabblue] coordinates {
(0.010,24.66) (0.037,24.69) (0.249,24.94) (0.514,24.72) (0.736,24.80) (0.996,24.56) (1.234,24.69) (1.499,24.40) (1.737,24.52) (1.997,24.34) (2.235,24.49) (2.500,24.33) (2.738,24.51) (2.998,24.26) (3.231,24.39) (3.506,24.23) (3.734,24.36) (3.999,24.19) (4.232,24.36) (4.497,24.10) (4.735,24.23) (5.000,24.02) (5.233,24.20) (5.498,23.96) (5.736,24.17) (5.870,24.15) (6.001,24.19) (6.130,24.45) (6.260,24.72) (6.393,24.82) (6.499,25.05) (6.620,25.40) (6.737,25.74) (6.870,26.01) (6.997,26.50) (7.134,27.12) (7.240,27.50) (7.346,27.73) (7.489,28.22) (7.611,28.80) (7.744,29.31) (7.823,29.54) (7.982,30.26) (8.110,30.87) (8.240,31.33) (8.370,31.56) (8.510,31.95) (8.640,32.48) (8.770,32.94) (8.990,33.56) (9.110,33.97) (9.200,33.86) (9.280,33.89) (9.400,33.90) (9.500,33.91)
(9.600,33.93) (9.625,33.88) (9.650,33.95) (9.675,33.87) (9.700,33.97) (9.725,33.86) (9.750,33.99) (9.775,33.85) (9.800,34.01) (9.825,33.83) (9.850,34.03) (9.875,33.82) (9.900,34.05) (9.925,33.80) (9.950,34.07) (9.975,33.79)
(10.000,34.10) (10.025,33.77) (10.050,34.12) (10.075,33.76) (10.100,34.13) (10.125,33.76) (10.150,34.12) (10.175,33.75) (10.200,34.13) (10.225,33.76) (10.250,34.12) (10.275,33.76) (10.300,34.13) (10.325,33.77) (10.350,34.12) (10.375,33.76) (10.400,34.13) (10.425,33.76) (10.450,34.12) (10.475,33.77)
(10.500,34.13) (10.525,33.76) (10.550,34.12) (10.575,33.77) (10.600,34.13) (10.625,33.77) (10.650,34.14) (10.675,33.78) (10.700,34.13) (10.725,33.78) (10.750,34.14) (10.775,33.79) (10.800,34.14) (10.825,33.80) (10.850,34.14) (10.875,33.81) (10.900,34.15) (10.925,33.82) (10.950,34.15) (10.975,33.83)
(11.000,34.17) (11.025,33.85) (11.050,34.16) (11.075,33.86) (11.100,34.17) (11.125,33.86) (11.150,34.16) (11.175,33.87) (11.200,34.16) (11.225,33.87) (11.250,34.15) (11.275,33.87) (11.300,34.16) (11.325,33.88) (11.350,34.15) (11.375,33.88) (11.400,34.16) (11.425,33.89) (11.450,34.15) (11.475,33.89)
(11.500,34.15) (11.525,33.90) (11.550,34.15) (11.575,33.90) (11.600,34.14) (11.625,33.91) (11.650,34.15) (11.675,33.91) (11.700,34.14) (11.725,33.92) (11.750,34.14) (11.775,33.92) (11.800,34.14) (11.825,33.93) (11.850,34.13) (11.875,33.93) (11.900,34.14) (11.925,33.94) (11.950,34.13) (11.975,33.94)
(12.000,34.16) (12.025,33.95) (12.050,34.13) (12.075,33.96) (12.100,34.12) (12.125,33.97) (12.150,34.12) (12.175,33.98) (12.200,34.11) (12.225,33.99) (12.250,34.11) (12.275,34.00) (12.300,34.10) (12.325,34.01) (12.350,34.10) (12.375,34.02) (12.400,34.09) (12.425,34.03) (12.450,34.09) (12.475,34.04) (12.500,34.09) (12.525,34.05) (12.550,34.08) (12.600,34.06)
(12.700,34.08) (12.900,34.07) (13.000,34.08) (13.300,34.10) (13.500,34.11) (13.650,34.14) (13.750,34.15) (13.850,34.11) (14.000,34.09) (14.200,34.10) (14.400,34.11) (14.600,34.09) (14.800,34.10) (15.000,34.08) (15.300,34.07) (15.600,34.08) (15.900,34.06) (16.100,34.07) (16.400,34.06) (16.600,34.05)
(16.800,34.05) (16.825,34.01) (16.850,34.07) (16.875,34.00) (16.900,34.08) (16.925,33.99) (16.950,34.09) (16.975,33.98)
(17.000,34.14) (17.025,33.94) (17.050,34.13) (17.075,33.92) (17.100,34.12) (17.125,33.92) (17.150,34.12) (17.175,33.92) (17.200,34.12) (17.225,33.92) (17.250,34.11) (17.275,33.92) (17.300,34.12) (17.325,33.92) (17.350,34.11) (17.375,33.91) (17.400,34.12) (17.425,33.91) (17.450,34.12) (17.475,33.91)
(17.500,34.12) (17.525,33.91) (17.550,34.11) (17.575,33.90) (17.600,34.12) (17.625,33.90) (17.650,34.12) (17.675,33.90) (17.700,34.12) (17.725,33.90) (17.750,34.12) (17.775,33.89) (17.800,34.12) (17.825,33.89) (17.850,34.13) (17.875,33.88) (17.900,34.13) (17.925,33.87) (17.950,34.13) (17.975,33.86)
(18.000,34.16) (18.025,33.84) (18.050,34.16) (18.075,33.84) (18.100,34.16) (18.125,33.84) (18.150,34.16) (18.175,33.83) (18.200,34.15) (18.225,33.83) (18.250,34.16) (18.275,33.83) (18.300,34.15) (18.325,33.83) (18.350,34.15) (18.375,33.83) (18.400,34.14) (18.425,33.83) (18.450,34.15) (18.475,33.82)
(18.500,34.15) (18.525,33.82) (18.550,34.14) (18.575,33.82) (18.600,34.14) (18.625,33.82) (18.650,34.14) (18.675,33.81) (18.700,34.14) (18.725,33.81) (18.750,34.13) (18.775,33.81) (18.800,34.13) (18.825,33.80) (18.850,34.13) (18.875,33.80) (18.900,34.13) (18.925,33.80) (18.950,34.12) (18.975,33.80)
(19.000,34.15) (19.025,33.79) (19.050,34.13) (19.075,33.79) (19.100,34.12) (19.125,33.79) (19.150,34.12) (19.175,33.79) (19.200,34.12) (19.225,33.78) (19.250,34.12) (19.275,33.78) (19.300,34.11) (19.325,33.78) (19.350,34.11) (19.375,33.78) (19.400,34.11) (19.425,33.77) (19.450,34.11) (19.475,33.77)
(19.500,34.10) (19.525,33.77) (19.550,34.10) (19.575,33.77) (19.600,34.10) (19.625,33.76) (19.650,34.09) (19.675,33.76) (19.700,34.09) (19.725,33.76) (19.750,34.09) (19.775,33.76) (19.800,34.08) (19.825,33.75) (19.850,34.08) (19.875,33.75) (19.900,34.08) (19.925,33.75) (19.950,34.07) (19.975,33.74)
(20.000,34.07) (20.025,33.73) (20.050,34.06) (20.075,33.73) (20.100,34.05) (20.125,33.72) (20.150,34.05) (20.175,33.72) (20.200,34.04) (20.225,33.72) (20.250,34.03) (20.275,33.72) (20.300,34.03) (20.325,33.71) (20.350,34.02) (20.375,33.71) (20.400,34.01) (20.425,33.71) (20.450,34.00) (20.475,33.71)
(20.500,34.00) (20.525,33.72) (20.550,33.99) (20.575,33.72) (20.600,33.98) (20.625,33.73) (20.650,33.97) (20.675,33.74) (20.700,33.96) (20.725,33.75) (20.750,33.95) (20.775,33.76) (20.800,33.94) (20.825,33.77) (20.850,33.93) (20.875,33.78) (20.900,33.92) (20.925,33.80) (20.950,33.90) (20.975,33.82) (21.000,33.88)
(21.050,33.83) (21.100,33.87) (21.200,33.84) (21.300,33.87) (21.400,33.83) (21.500,33.86) (21.600,33.83) (21.700,33.86) (21.800,33.84) (21.900,33.87) (22.000,33.83) (22.100,33.86) (22.200,33.83) (22.300,33.86) (22.400,33.84) (22.500,33.86) (22.600,33.83) (22.700,33.86) (22.800,33.84) (22.900,33.86) (23.000,33.83) (23.100,33.87) (23.200,33.83) (23.300,33.86) (23.400,33.84) (23.500,33.86) (23.600,33.83) (23.700,33.86) (23.800,33.84) (23.900,33.86) (23.960,33.84)
};
\end{axis}
\end{tikzpicture}
\end{document}
